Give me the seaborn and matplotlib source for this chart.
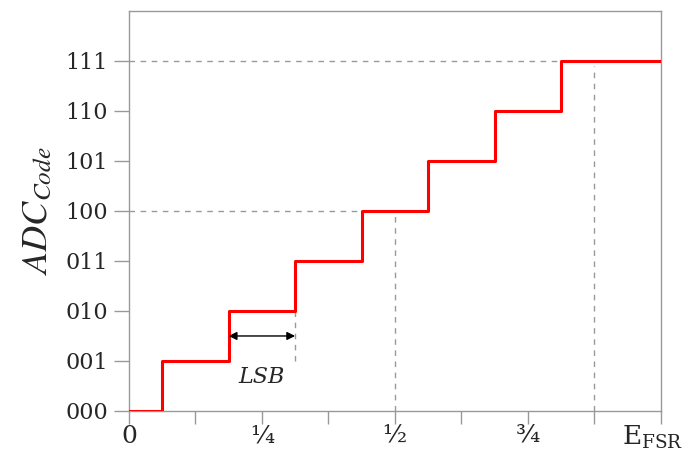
import matplotlib
matplotlib.use("Agg")
import matplotlib.pyplot as plt
import seaborn as sns
import pandas as pd

sns.set_theme(style="white")
plt.rcParams['font.family'] = ['DejaVu Serif']
plt.rcParams['mathtext.fontset'] = 'dejavuserif'

# data
step_edges = [0, 1/16, 3/16, 5/16, 7/16, 9/16, 11/16, 13/16, 1]
codes = [0, 1, 2, 3, 4, 5, 6, 7, 7]
y_ticks = [0, 1, 2, 3, 4, 5, 6, 7]
y_labels = ["000", "001", "010", "011", "100", "101", "110", "111"]
x_ticks = [0, 1/8, 1/4, 3/8, 1/2, 5/8, 3/4, 7/8, 1]
x_labels = ["0", "", "¼", "", "½", "", "¾", "", ""]
end_label = "E$_{\\mathregular{FSR}}$"

df = pd.DataFrame({"x": step_edges, "code": codes})

fig = plt.figure(figsize=(6.97, 4.5), dpi=100)
ax = fig.add_axes([0.185, 0.0867, 0.763, 0.889])

gray = "#999999"
# dashed guides
ax.plot([0, 1], [7, 7], ls=(0, (4, 4)), color=gray, lw=1, zorder=1)
ax.plot([0, 0.5], [4, 4], ls=(0, (4, 4)), color=gray, lw=1, zorder=1)
ax.plot([0.5, 0.5], [0, 4], ls=(0, (4, 4)), color=gray, lw=1, zorder=1)
ax.plot([7/8, 7/8], [0, 6.9], ls=(0, (4, 4)), color=gray, lw=1, zorder=1)
ax.plot([5/16, 5/16], [1, 2], ls=(0, (4, 4)), color=gray, lw=1, zorder=1)

sns.lineplot(data=df, x="x", y="code", drawstyle="steps-post", color="red",
             linewidth=2.2, ax=ax, zorder=3)

# LSB arrow
ax.annotate("", xy=(3/16, 1.5), xytext=(5/16, 1.5),
            arrowprops=dict(arrowstyle="<|-|>", color="black", lw=1,
                            mutation_scale=12, shrinkA=0, shrinkB=0))
ax.text(0.25, 0.68, "LSB", style="italic", fontsize=16, ha="center", va="center")

ax.set_xlim(0, 1)
ax.set_ylim(0, 8)
ax.set_xticks(x_ticks)
ax.set_xticklabels(x_labels)
ax.set_yticks(y_ticks)
ax.set_yticklabels(y_labels)
for lbl in ax.get_xticklabels():
    lbl.set_fontsize(18)
for lbl in ax.get_yticklabels():
    lbl.set_fontsize(16)
ax.tick_params(axis="x", direction="out", length=9, width=1, color=gray, pad=1,
               bottom=True)
ax.tick_params(axis="y", direction="out", length=11, width=1, color=gray, pad=4,
               left=True)
for s in ax.spines.values():
    s.set_color(gray)
    s.set_linewidth(1)

ax.annotate(end_label, xy=(1, 0), xycoords=("data", "axes fraction"),
            xytext=(-6, -9), textcoords="offset points",
            ha="center", va="top", fontsize=19, color="#262626",
            annotation_clip=False)

ax.set_xlabel("")
ax.set_ylabel(r"$ADC_{Code}$", fontsize=26, labelpad=8)
ax.yaxis.label.set_math_fontfamily('stix')

fig.savefig("out.png", dpi=100)
